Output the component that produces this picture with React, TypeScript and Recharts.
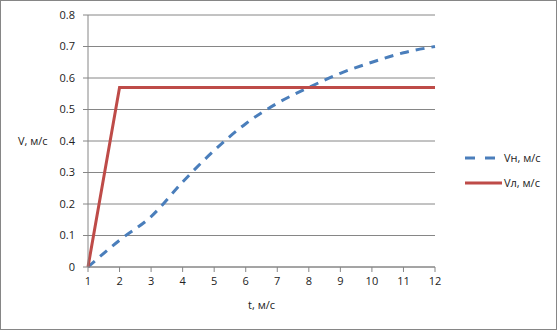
import * as React from "react";
import {
  LineChart,
  Line,
  XAxis,
  YAxis,
  CartesianGrid,
} from "recharts";

const times = [1, 2, 3, 4, 5, 6, 7, 8, 9, 10, 11, 12];
const vnValues = [0, 0.085, 0.16, 0.27, 0.37, 0.455, 0.52, 0.57, 0.615, 0.65, 0.68, 0.7];
const vlValues = [0, 0.57, 0.57, 0.57, 0.57, 0.57, 0.57, 0.57, 0.57, 0.57, 0.57, 0.57];
const yTicks = [0, 0.1, 0.2, 0.3, 0.4, 0.5, 0.6, 0.7, 0.8];
const seriesNames = ["Vн, м/с", "Vл, м/с"];

const BLUE = "#4A7EBB";
const RED = "#BE4B48";
const GRID = "#868686";
const FONT = "'Open Sans', 'Liberation Sans', sans-serif";

const data = times.map((t, i) => ({ t, vn: vnValues[i], vl: vlValues[i] }));

const tickStyle = { fontSize: 11, fill: "#222", fontFamily: FONT };

const XLabel = (props: any) => {
  const vb = props.viewBox || {};
  return (
    <text
      x={vb.x + vb.width / 2}
      y={vb.y + 42}
      textAnchor="middle"
      fontSize={11}
      fill="#222"
      fontFamily={FONT}
    >
      t, м/с
    </text>
  );
};

const YLabel = (props: any) => {
  const vb = props.viewBox || {};
  return (
    <text
      x={18}
      y={vb.y + vb.height / 2 + 4}
      textAnchor="start"
      fontSize={11}
      fill="#222"
      fontFamily={FONT}
    >
      V, м/с
    </text>
  );
};

const LegendBox = () => (
  <div
    style={{
      position: "absolute",
      left: 463,
      top: 144,
      fontFamily: FONT,
      fontSize: 11,
      color: "#222",
    }}
  >
    {seriesNames.map((name, i) => (
      <div key={name} style={{ display: "flex", alignItems: "center", height: 25 }}>
        <svg width={39} height={6} style={{ display: "block" }}>
          <line
            x1={1}
            y1={3}
            x2={38}
            y2={3}
            stroke={i === 0 ? BLUE : RED}
            strokeWidth={3}
            strokeDasharray={i === 0 ? "10 10" : undefined}
          />
        </svg>
        <span style={{ marginLeft: 1 }}>{name}</span>
      </div>
    ))}
  </div>
);

export default function App() {
  return (
    <div
      style={{
        position: "relative",
        width: 557,
        height: 330,
        boxSizing: "border-box",
        border: `1px solid ${GRID}`,
        background: "#fff",
      }}
    >
      <style>{`body{margin:0}`}</style>
      <div style={{ position: "absolute", left: -1, top: -1 }}>
        <LineChart
          width={557}
          height={330}
          data={data}
          margin={{ top: 15, right: 122, bottom: 13, left: 0 }}
        >
          <CartesianGrid vertical={false} stroke={GRID} />
          <XAxis
            dataKey="t"
            type="category"
            height={50}
            stroke={GRID}
            tickSize={5}
            tickMargin={5}
            tick={tickStyle}
            interval={0}
            label={<XLabel />}
          />
          <YAxis
            width={88}
            domain={[0, 0.8]}
            ticks={yTicks}
            stroke={GRID}
            tickSize={5}
            tickMargin={8}
            tick={tickStyle}
            tickFormatter={(v: number) => (v === 0 ? "0" : v.toFixed(1))}
            label={<YLabel />}
          />
          <Line
            type="monotone"
            dataKey="vn"
            name={seriesNames[0]}
            stroke={BLUE}
            strokeWidth={3}
            strokeDasharray="9 7"
            dot={false}
            isAnimationActive={false}
          />
          <Line
            type="linear"
            dataKey="vl"
            name={seriesNames[1]}
            stroke={RED}
            strokeWidth={3}
            dot={false}
            isAnimationActive={false}
          />
        </LineChart>
      </div>
      <LegendBox />
    </div>
  );
}
